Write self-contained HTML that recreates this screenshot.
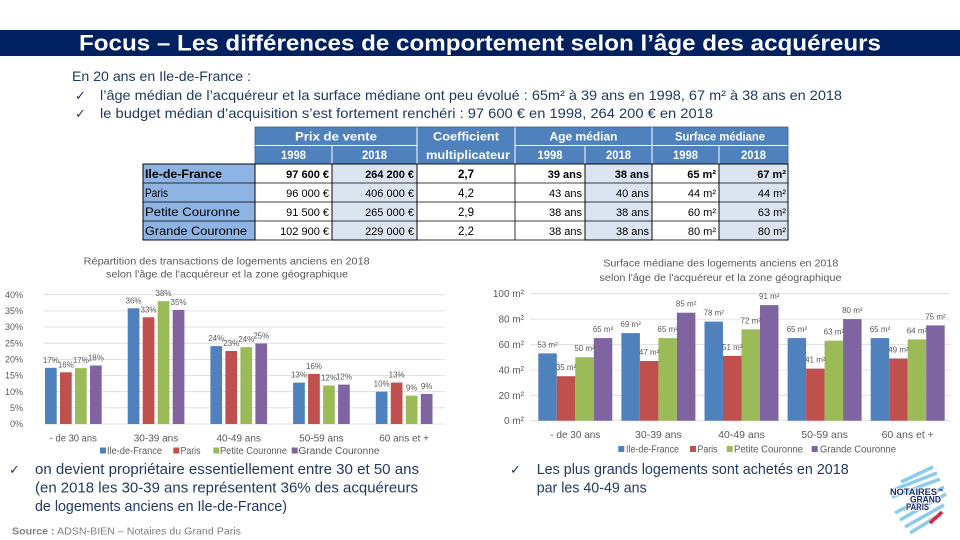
<!DOCTYPE html>
<html><head><meta charset="utf-8"><style>
html,body{margin:0;padding:0;background:#fff;}
svg{display:block;}
text{font-family:"Liberation Sans",sans-serif;}
.ck{font-family:"DejaVu Sans",sans-serif;}
</style></head><body>
<svg width="960" height="540" viewBox="0 0 960 540" xmlns="http://www.w3.org/2000/svg">
<rect x="0" y="0" width="960" height="540" fill="#fff"/>
<!-- Title bar -->
<rect x="0" y="30" width="960" height="26" fill="#002060"/>
<text x="79" y="50.5" font-size="22" font-weight="bold" fill="#fff" textLength="802" lengthAdjust="spacingAndGlyphs">Focus – Les différences de comportement selon l’âge des acquéreurs</text>

<!-- Top bullets -->
<g fill="#203864">
<text x="72" y="81" font-size="14" textLength="179" lengthAdjust="spacingAndGlyphs">En 20 ans en Ile-de-France :</text>
<text class="ck" x="75" y="100" font-size="13">✓</text>
<text x="100" y="100" font-size="14" textLength="742" lengthAdjust="spacingAndGlyphs">l’âge médian de l’acquéreur et la surface médiane ont peu évolué : 65m² à 39 ans en 1998, 67 m² à 38 ans en 2018</text>
<text class="ck" x="75" y="118" font-size="13">✓</text>
<text x="100" y="118" font-size="14" textLength="613" lengthAdjust="spacingAndGlyphs">le budget médian d’acquisition s’est fortement renchéri : 97 600 € en 1998, 264 200 € en 2018</text>
</g>

<!-- Table header -->
<g>
<rect x="255" y="127" width="533" height="37" fill="#4F81BD"/>
<g stroke="#fff" stroke-width="1">
<line x1="255" y1="145.5" x2="417" y2="145.5"/>
<line x1="515" y1="145.5" x2="788" y2="145.5"/>
<line x1="332" y1="145.5" x2="332" y2="164"/>
<line x1="417" y1="127" x2="417" y2="164"/>
<line x1="515" y1="127" x2="515" y2="164"/>
<line x1="585" y1="145.5" x2="585" y2="164"/>
<line x1="652" y1="127" x2="652" y2="164"/>
<line x1="719" y1="145.5" x2="719" y2="164"/>
</g>
<rect x="255" y="127" width="533" height="37" fill="none" stroke="#3A5F8F" stroke-width="0.8"/>
<g fill="#fff" font-size="12" font-weight="bold" text-anchor="middle">
<text x="336" y="140.5" textLength="82" lengthAdjust="spacingAndGlyphs">Prix de vente</text>
<text x="466" y="140.5" textLength="66" lengthAdjust="spacingAndGlyphs">Coefficient</text>
<text x="468" y="159" textLength="84" lengthAdjust="spacingAndGlyphs">multiplicateur</text>
<text x="583.5" y="140.5" textLength="68" lengthAdjust="spacingAndGlyphs">Age médian</text>
<text x="720" y="140.5" textLength="90" lengthAdjust="spacingAndGlyphs">Surface médiane</text>
<text x="293.5" y="159" textLength="25" lengthAdjust="spacingAndGlyphs">1998</text>
<text x="374.5" y="159" textLength="25" lengthAdjust="spacingAndGlyphs">2018</text>
<text x="550" y="159" textLength="25" lengthAdjust="spacingAndGlyphs">1998</text>
<text x="618.5" y="159" textLength="25" lengthAdjust="spacingAndGlyphs">2018</text>
<text x="685.5" y="159" textLength="25" lengthAdjust="spacingAndGlyphs">1998</text>
<text x="753.5" y="159" textLength="25" lengthAdjust="spacingAndGlyphs">2018</text>
</g>
</g>

<!-- Table body -->
<g stroke="#000" stroke-width="0.8">
<rect x="143" y="164" width="112" height="76" fill="#8DB4E2"/>
<rect x="332" y="164" width="85" height="76" fill="#DBE5F1"/>
<rect x="585" y="164" width="67" height="76" fill="#DBE5F1"/>
<rect x="719" y="164" width="69" height="76" fill="#DBE5F1"/>
<rect x="143" y="164" width="645" height="76" fill="none"/>
<line x1="143" y1="183" x2="788" y2="183"/>
<line x1="143" y1="202" x2="788" y2="202"/>
<line x1="143" y1="221" x2="788" y2="221"/>
<line x1="255" y1="164" x2="255" y2="240"/>
<line x1="332" y1="164" x2="332" y2="240"/>
<line x1="417" y1="164" x2="417" y2="240"/>
<line x1="515" y1="164" x2="515" y2="240"/>
<line x1="585" y1="164" x2="585" y2="240"/>
<line x1="652" y1="164" x2="652" y2="240"/>
<line x1="719" y1="164" x2="719" y2="240"/>
</g>
<g fill="#000" font-size="12">
<text x="145" y="178" font-weight="bold" textLength="77" lengthAdjust="spacingAndGlyphs">Ile-de-France</text>
<text x="145" y="197" textLength="23" lengthAdjust="spacingAndGlyphs">Paris</text>
<text x="145" y="216" textLength="95" lengthAdjust="spacingAndGlyphs">Petite Couronne</text>
<text x="145" y="235" textLength="102" lengthAdjust="spacingAndGlyphs">Grande Couronne</text>
</g>
<g fill="#000" font-size="11" text-anchor="end">
<g font-weight="bold">
<text x="329" y="178">97 600 €</text><text x="414" y="178">264 200 €</text>
<text x="582" y="178">39 ans</text><text x="649" y="178">38 ans</text>
<text x="716" y="178">65 m²</text><text x="786" y="178">67 m²</text>
</g>
<text x="329" y="197">96 000 €</text><text x="414" y="197">406 000 €</text>
<text x="582" y="197">43 ans</text><text x="649" y="197">40 ans</text>
<text x="716" y="197">44 m²</text><text x="786" y="197">44 m²</text>
<text x="329" y="216">91 500 €</text><text x="414" y="216">265 000 €</text>
<text x="582" y="216">38 ans</text><text x="649" y="216">38 ans</text>
<text x="716" y="216">60 m²</text><text x="786" y="216">63 m²</text>
<text x="329" y="235">102 900 €</text><text x="414" y="235">229 000 €</text>
<text x="582" y="235">38 ans</text><text x="649" y="235">38 ans</text>
<text x="716" y="235">80 m²</text><text x="786" y="235">80 m²</text>
</g>
<g fill="#000" font-size="11.5" text-anchor="middle">
<text x="466" y="178" font-weight="bold">2,7</text>
<text x="466" y="197">4,2</text>
<text x="466" y="216">2,9</text>
<text x="466" y="235">2,2</text>
</g>

<!-- LEFT CHART -->
<g fill="#595959" text-anchor="middle" font-size="10">
<text x="226.7" y="264.5" textLength="286" lengthAdjust="spacingAndGlyphs">Répartition des transactions de logements anciens en 2018</text>
<text x="227" y="277.5" textLength="242" lengthAdjust="spacingAndGlyphs">selon l'âge de l'acquéreur et la zone géographique</text>
</g>
<g stroke="#D9D9D9" stroke-width="0.8">
<line x1="44" y1="294.7" x2="445" y2="294.7"/>
<line x1="44" y1="310.9" x2="445" y2="310.9"/>
<line x1="44" y1="327.0" x2="445" y2="327.0"/>
<line x1="44" y1="343.2" x2="445" y2="343.2"/>
<line x1="44" y1="359.4" x2="445" y2="359.4"/>
<line x1="44" y1="375.5" x2="445" y2="375.5"/>
<line x1="44" y1="391.7" x2="445" y2="391.7"/>
<line x1="44" y1="407.8" x2="445" y2="407.8"/>
<line x1="44" y1="424" x2="445" y2="424"/>
</g>
<g fill="#595959" font-size="9" text-anchor="end">
<text x="23" y="297.9">40%</text><text x="23" y="314.1">35%</text><text x="23" y="330.2">30%</text>
<text x="23" y="346.4">25%</text><text x="23" y="362.6">20%</text><text x="23" y="378.7">15%</text>
<text x="23" y="394.9">10%</text><text x="23" y="411">5%</text><text x="23" y="427.2">0%</text>
</g>
<g fill="#4F81BD">
<rect x="45" y="367.8" width="11.7" height="56.2"/>
<rect x="127.7" y="308.3" width="11.7" height="115.7"/>
<rect x="210.4" y="346.1" width="11.7" height="77.9"/>
<rect x="293.1" y="382.6" width="11.7" height="41.4"/>
<rect x="375.8" y="391.7" width="11.7" height="32.3"/>
</g>
<g fill="#C0504D">
<rect x="60" y="372.3" width="11.7" height="51.7"/>
<rect x="142.7" y="317.3" width="11.7" height="106.7"/>
<rect x="225.4" y="351" width="11.7" height="73"/>
<rect x="308.1" y="373.9" width="11.7" height="50.1"/>
<rect x="390.8" y="382.6" width="11.7" height="41.4"/>
</g>
<g fill="#9BBB59">
<rect x="75" y="368.1" width="11.7" height="55.9"/>
<rect x="157.7" y="301.2" width="11.7" height="122.8"/>
<rect x="240.4" y="347.1" width="11.7" height="76.9"/>
<rect x="323.1" y="385.5" width="11.7" height="38.5"/>
<rect x="405.8" y="395.6" width="11.7" height="28.4"/>
</g>
<g fill="#8064A2">
<rect x="90" y="365.5" width="11.7" height="58.5"/>
<rect x="172.7" y="309.9" width="11.7" height="114.1"/>
<rect x="255.4" y="343.5" width="11.7" height="80.5"/>
<rect x="338.1" y="384.6" width="11.7" height="39.4"/>
<rect x="420.8" y="393.9" width="11.7" height="30.1"/>
</g>
<g fill="#595959" font-size="8" text-anchor="middle">
<text x="50.85" y="362.8">17%</text><text x="65.85" y="367.3">16%</text><text x="80.85" y="363.1">17%</text><text x="95.85" y="360.5">18%</text>
<text x="133.55" y="303.3">36%</text><text x="148.55" y="312.3">33%</text><text x="163.55" y="296.2">38%</text><text x="178.55" y="304.9">35%</text>
<text x="216.25" y="341.1">24%</text><text x="231.25" y="346">23%</text><text x="246.25" y="342.1">24%</text><text x="261.25" y="338.5">25%</text>
<text x="298.95" y="377.6">13%</text><text x="313.95" y="368.9">16%</text><text x="328.95" y="380.5">12%</text><text x="343.95" y="379.6">12%</text>
<text x="381.65" y="386.7">10%</text><text x="396.65" y="377.6">13%</text><text x="411.65" y="390.6">9%</text><text x="426.65" y="388.9">9%</text>
</g>
<g fill="#595959" font-size="10" text-anchor="middle">
<text x="73.3" y="441.5" textLength="47" lengthAdjust="spacingAndGlyphs">- de 30 ans</text>
<text x="156" y="441.5">30-39 ans</text>
<text x="238.7" y="441.5">40-49 ans</text>
<text x="321.4" y="441.5">50-59 ans</text>
<text x="404.1" y="441.5">60 ans et +</text>
</g>
<rect x="100" y="447.5" width="6" height="6" fill="#4F81BD"/>
<rect x="173.3" y="447.5" width="6" height="6" fill="#C0504D"/>
<rect x="213.3" y="447.5" width="6" height="6" fill="#9BBB59"/>
<rect x="291.7" y="447.5" width="6" height="6" fill="#8064A2"/>
<g fill="#595959" font-size="10">
<text x="107" y="454" textLength="55" lengthAdjust="spacingAndGlyphs">Ile-de-France</text>
<text x="180.5" y="454" textLength="20" lengthAdjust="spacingAndGlyphs">Paris</text>
<text x="220" y="454" textLength="67" lengthAdjust="spacingAndGlyphs">Petite Couronne</text>
<text x="298.5" y="454" textLength="81" lengthAdjust="spacingAndGlyphs">Grande Couronne</text>
</g>

<!-- RIGHT CHART -->
<g fill="#595959" text-anchor="middle" font-size="10.5">
<text x="720.8" y="266.5" textLength="235" lengthAdjust="spacingAndGlyphs">Surface médiane des logements anciens en 2018</text>
<text x="720.5" y="281" textLength="242" lengthAdjust="spacingAndGlyphs">selon l'âge de l'acquéreur et la zone géographique</text>
</g>
<g stroke="#D9D9D9" stroke-width="0.8">
<line x1="530" y1="293.7" x2="950" y2="293.7"/>
<line x1="530" y1="319.1" x2="950" y2="319.1"/>
<line x1="530" y1="344.5" x2="950" y2="344.5"/>
<line x1="530" y1="369.9" x2="950" y2="369.9"/>
<line x1="530" y1="395.3" x2="950" y2="395.3"/>
<line x1="530" y1="420.7" x2="950" y2="420.7"/>
</g>
<g fill="#595959" font-size="10" text-anchor="end">
<text x="524" y="297.2">100 m²</text><text x="524" y="322.6">80 m²</text><text x="524" y="348">60 m²</text>
<text x="524" y="373.4">40 m²</text><text x="524" y="398.8">20 m²</text><text x="524" y="424.2">0 m²</text>
</g>
<g fill="#4F81BD">
<rect x="538.3" y="353.4" width="18.5" height="67.3"/>
<rect x="621.4" y="333.1" width="18.5" height="87.6"/>
<rect x="704.5" y="321.6" width="18.5" height="99.1"/>
<rect x="787.6" y="338.1" width="18.5" height="82.6"/>
<rect x="870.7" y="338.1" width="18.5" height="82.6"/>
</g>
<g fill="#C0504D">
<rect x="556.8" y="376.2" width="18.5" height="44.5"/>
<rect x="639.9" y="361" width="18.5" height="59.7"/>
<rect x="723" y="355.9" width="18.5" height="64.8"/>
<rect x="806.1" y="368.6" width="18.5" height="52.1"/>
<rect x="889.2" y="358.5" width="18.5" height="62.2"/>
</g>
<g fill="#9BBB59">
<rect x="575.3" y="357.2" width="18.5" height="63.5"/>
<rect x="658.4" y="338.1" width="18.5" height="82.6"/>
<rect x="741.5" y="329.3" width="18.5" height="91.4"/>
<rect x="824.6" y="340.7" width="18.5" height="80"/>
<rect x="907.7" y="339.4" width="18.5" height="81.3"/>
</g>
<g fill="#8064A2">
<rect x="593.8" y="338.1" width="18.5" height="82.6"/>
<rect x="676.9" y="312.7" width="18.5" height="108"/>
<rect x="760" y="305.1" width="18.5" height="115.6"/>
<rect x="843.1" y="319.1" width="18.5" height="101.6"/>
<rect x="926.2" y="325.4" width="18.5" height="95.3"/>
</g>
<g fill="#595959" font-size="8" text-anchor="middle">
<text x="547.55" y="347.4">53 m²</text><text x="566.05" y="370.2">35 m²</text><text x="584.55" y="351.2">50 m²</text><text x="603.05" y="332.1">65 m²</text>
<text x="630.65" y="327.1">69 m²</text><text x="649.15" y="355">47 m²</text><text x="667.65" y="332.1">65 m²</text><text x="686.15" y="306.7">85 m²</text>
<text x="713.75" y="315.6">78 m²</text><text x="732.25" y="349.9">51 m²</text><text x="750.75" y="323.3">72 m²</text><text x="769.25" y="299.1">91 m²</text>
<text x="796.85" y="332.1">65 m²</text><text x="815.35" y="362.6">41 m²</text><text x="833.85" y="334.7">63 m²</text><text x="852.35" y="313.1">80 m²</text>
<text x="879.95" y="332.1">65 m²</text><text x="898.45" y="352.5">49 m²</text><text x="916.95" y="333.4">64 m²</text><text x="935.45" y="319.4">75 m²</text>
</g>
<g fill="#595959" font-size="10.5" text-anchor="middle">
<text x="575.3" y="438.2" textLength="50" lengthAdjust="spacingAndGlyphs">- de 30 ans</text>
<text x="658.4" y="438.2">30-39 ans</text>
<text x="741.5" y="438.2">40-49 ans</text>
<text x="824.6" y="438.2">50-59 ans</text>
<text x="907.7" y="438.2">60 ans et +</text>
</g>
<rect x="618.3" y="446" width="6" height="6" fill="#4F81BD"/>
<rect x="690" y="446" width="6" height="6" fill="#C0504D"/>
<rect x="726.7" y="446" width="6" height="6" fill="#9BBB59"/>
<rect x="811.7" y="446" width="6" height="6" fill="#8064A2"/>
<g fill="#595959" font-size="10">
<text x="626" y="452.5" textLength="53" lengthAdjust="spacingAndGlyphs">Ile-de-France</text>
<text x="697.5" y="452.5" textLength="20" lengthAdjust="spacingAndGlyphs">Paris</text>
<text x="734" y="452.5" textLength="69" lengthAdjust="spacingAndGlyphs">Petite Couronne</text>
<text x="820" y="452.5" textLength="76" lengthAdjust="spacingAndGlyphs">Grande Couronne</text>
</g>

<!-- Bottom text -->
<g fill="#203864">
<text class="ck" x="9" y="474" font-size="13">✓</text>
<text x="35" y="474" font-size="14.5" textLength="384" lengthAdjust="spacingAndGlyphs">on devient propriétaire essentiellement entre 30 et 50 ans</text>
<text x="35" y="492.5" font-size="14.5" textLength="383" lengthAdjust="spacingAndGlyphs">(en 2018 les 30-39 ans représentent 36% des acquéreurs</text>
<text x="35" y="511" font-size="14.5" textLength="252" lengthAdjust="spacingAndGlyphs">de logements anciens en Ile-de-France)</text>
<text class="ck" x="510" y="474" font-size="13">✓</text>
<text x="536.7" y="474" font-size="14.5" textLength="312" lengthAdjust="spacingAndGlyphs">Les plus grands logements sont achetés en 2018</text>
<text x="536.7" y="492.5" font-size="14.5" textLength="110" lengthAdjust="spacingAndGlyphs">par les 40-49 ans</text>
</g>
<text x="12" y="534.5" font-size="10.5" fill="#7F7F7F" textLength="229" lengthAdjust="spacingAndGlyphs"><tspan font-weight="bold">Source :</tspan> ADSN-BIEN – Notaires du Grand Paris</text>

<!-- Logo -->
<g stroke="#8CCBEA" stroke-width="3.5" stroke-linecap="butt">
<line x1="901" y1="482" x2="933" y2="467"/>
<line x1="893" y1="490" x2="937" y2="473"/>
<line x1="892" y1="497" x2="940" y2="479"/>
<line x1="895" y1="513" x2="944" y2="487"/>
<line x1="900" y1="520" x2="946" y2="494"/>
<line x1="905" y1="527" x2="944" y2="505"/>
<line x1="910" y1="533" x2="936" y2="517"/>
</g>
<line x1="930" y1="523" x2="942" y2="512" stroke="#E8203F" stroke-width="3.5"/>
<g fill="#1B2A6B" font-weight="bold">
<text x="890" y="495" font-size="9" textLength="47" lengthAdjust="spacingAndGlyphs" stroke="#fff" stroke-width="1.5" paint-order="stroke">NOTAIRES</text>
<text x="939" y="491" font-size="3.5">du</text>
<text x="941" y="502.5" font-size="9" text-anchor="end" textLength="31" lengthAdjust="spacingAndGlyphs" stroke="#fff" stroke-width="1.5" paint-order="stroke">GRAND</text>
<text x="906" y="510" font-size="9" textLength="23" lengthAdjust="spacingAndGlyphs" stroke="#fff" stroke-width="1.5" paint-order="stroke">PARIS</text>
</g>
</svg>
</body></html>
